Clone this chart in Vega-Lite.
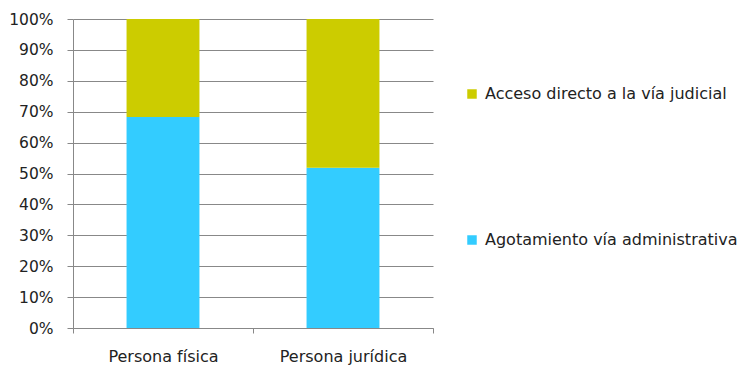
{
  "$schema": "https://vega.github.io/schema/vega-lite/v6.json",
  "width": 360,
  "height": 309,
  "autosize": {"type": "none"},
  "padding": {"left": 73, "top": 19, "right": 318, "bottom": 37},
  "background": "white",
  "config": {
    "view": {"stroke": null},
    "font": "DejaVu Sans"
  },
  "data": {
    "values": [
      {"persona": "Persona física", "tipo": "Agotamiento vía administrativa", "valor": 0.683},
      {"persona": "Persona física", "tipo": "Acceso directo a la vía judicial", "valor": 0.317},
      {"persona": "Persona jurídica", "tipo": "Agotamiento vía administrativa", "valor": 0.519},
      {"persona": "Persona jurídica", "tipo": "Acceso directo a la vía judicial", "valor": 0.481}
    ]
  },
  "mark": {"type": "bar", "width": {"band": 0.405}},
  "encoding": {
    "x": {
      "field": "persona",
      "type": "nominal",
      "sort": null,
      "scale": {"paddingInner": 0, "paddingOuter": 0},
      "axis": {
        "title": null,
        "labelAngle": 0,
        "tickBand": "extent",
        "tickSize": 5,
        "tickColor": "#888888",
        "domainColor": "#888888",
        "labelFontSize": 16,
        "labelColor": "#222222",
        "labelPadding": 15
      }
    },
    "y": {
      "field": "valor",
      "type": "quantitative",
      "stack": "zero",
      "scale": {"domain": [0, 1], "nice": false},
      "axis": {
        "title": null,
        "format": ".0%",
        "values": [0, 0.1, 0.2, 0.3, 0.4, 0.5, 0.6, 0.7, 0.8, 0.9, 1],
        "labelOverlap": false,
        "grid": true,
        "gridColor": "#888888",
        "gridOpacity": 1,
        "tickSize": 6,
        "tickColor": "#888888",
        "domainColor": "#888888",
        "labelFontSize": 15.5,
        "labelColor": "#222222",
        "labelPadding": 14
      }
    },
    "color": {
      "field": "tipo",
      "type": "nominal",
      "scale": {
        "domain": ["Acceso directo a la vía judicial", "Agotamiento vía administrativa"],
        "range": ["#CCCC00", "#33CCFF"]
      },
      "legend": {
        "title": null,
        "orient": "none",
        "legendX": 391,
        "legendY": 67,
        "symbolType": "square",
        "symbolSize": 90,
        "symbolStrokeWidth": 0,
        "symbolOpacity": 1,
        "labelFontSize": 16,
        "labelColor": "#222222",
        "labelOffset": 5,
        "rowPadding": 130,
        "labelLimit": 400
      }
    },
    "order": {"field": "tipo", "sort": "descending"}
  }
}
